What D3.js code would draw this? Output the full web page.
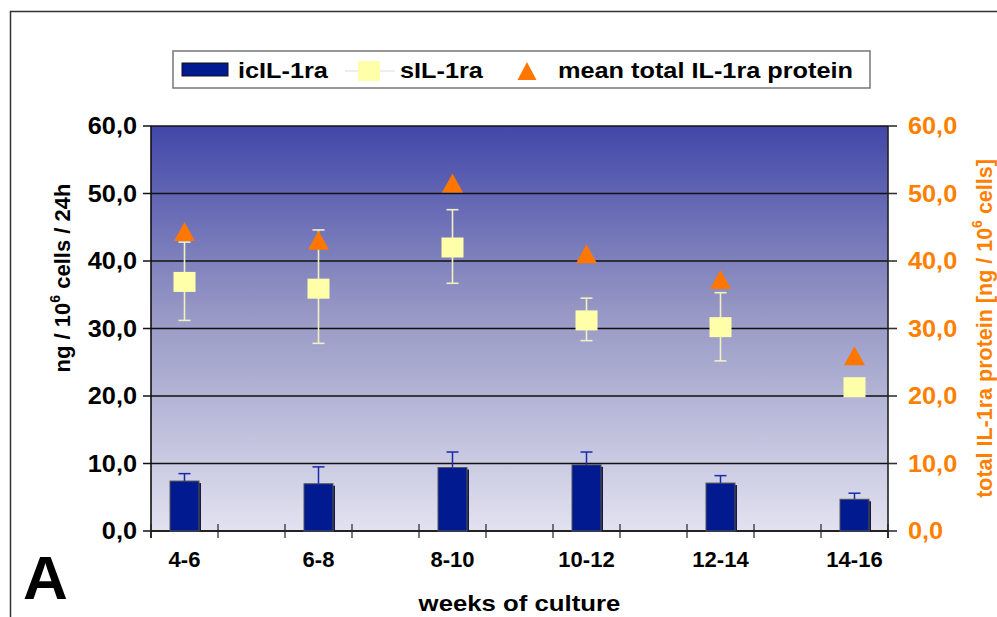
<!DOCTYPE html>
<html><head><meta charset="utf-8">
<script src="https://cdn.jsdelivr.net/npm/d3@7"></script>
<style>body{margin:0;background:#fff}svg{display:block}text{font-family:"Liberation Sans",Arial,sans-serif;font-weight:bold}</style>
</head><body><svg id="c" width="997" height="617"></svg>
<script>
const categories = ["4-6","6-8","8-10","10-12","12-14","14-16"];
const icIL = [7.4, 7.0, 9.4, 9.8, 7.1, 4.7];
const icILErr = [8.5, 9.5, 11.7, 11.7, 8.2, 5.6];
const sIL = [36.9, 35.9, 42.0, 31.2, 30.2, 21.3];
const sILHi = [42.8, 44.6, 47.6, 34.5, 35.3, 22.0];
const sILLo = [31.2, 27.8, 36.7, 28.2, 25.2, 20.6];
const total = [44.3, 43.0, 51.5, 41.0, 37.2, 25.9];
const yTicks = [0,10,20,30,40,50,60];

const svg = d3.select("#c");
const L=151,R=888,T=126,B=531;
const slots = d3.range(categories.length*2-1);
const x = d3.scaleBand().domain(slots).range([L,R]).padding(0);
const cx = i => x(i*2) + x.bandwidth()/2;
const y = d3.scaleLinear().domain([0,60]).range([B,T]);
const yR = d3.scaleLinear().domain([0,60]).range([B,T]);
const fmt = v => d3.format(".1f")(v).replace(".",",");
const tr = (X,Y,sx) => `translate(${X},${Y}) scale(${sx},1)`;

// outer frame
svg.append("path").attr("d","M10.5,617 V11.5 H997").attr("fill","none").attr("stroke","#333").attr("stroke-width",1.5);

// gradient plot background
const defs = svg.append("defs");
const g = defs.append("linearGradient").attr("id","bg").attr("x1",0).attr("y1",0).attr("x2",0).attr("y2",1);
g.append("stop").attr("offset","0%").attr("stop-color","#4247a8");
g.append("stop").attr("offset","45%").attr("stop-color","#9596c4");
g.append("stop").attr("offset","100%").attr("stop-color","#e2e2f0");
svg.append("rect").attr("x",L).attr("y",T).attr("width",R-L).attr("height",B-T).attr("fill","url(#bg)");

// gridlines + left ticks
svg.append("g").selectAll("line").data(yTicks).join("line")
  .attr("x1",143).attr("x2",R).attr("y1",d=>y(d)).attr("y2",d=>y(d))
  .attr("stroke","#111").attr("stroke-width",1.6);
// right ticks
svg.append("g").selectAll("line").data(yTicks).join("line")
  .attr("x1",R).attr("x2",897).attr("y1",d=>yR(d)).attr("y2",d=>yR(d))
  .attr("stroke","#333").attr("stroke-width",1.6);
// axes lines
svg.append("line").attr("x1",L).attr("x2",L).attr("y1",T).attr("y2",B+7).attr("stroke","#111").attr("stroke-width",1.6);
svg.append("line").attr("x1",R).attr("x2",R).attr("y1",T).attr("y2",B+7).attr("stroke","#222").attr("stroke-width",1.6);
svg.append("line").attr("x1",L).attr("x2",R).attr("y1",B).attr("y2",B).attr("stroke","#222").attr("stroke-width",2);
// x ticks at band boundaries
const bounds = slots.map(s=>x(s)).concat([R]);
svg.append("g").selectAll("line").data(bounds).join("line")
  .attr("x1",d=>d).attr("x2",d=>d).attr("y1",B-7).attr("y2",B+7).attr("stroke","#222").attr("stroke-width",1.2);

// y labels
svg.append("g").selectAll("text").data(yTicks).join("text")
  .attr("transform",d=>tr(137,y(d)+8,1.1)).attr("text-anchor","end").attr("font-size",23).attr("fill","#000").text(fmt);
svg.append("g").selectAll("text").data(yTicks).join("text")
  .attr("transform",d=>tr(908,yR(d)+8,1.1)).attr("text-anchor","start").attr("font-size",23).attr("fill","#ff7f00").text(fmt);
// x labels
svg.append("g").selectAll("text").data(categories).join("text")
  .attr("transform",(d,i)=>tr(cx(i),567,1.0)).attr("text-anchor","middle").attr("font-size",22).attr("fill","#000").text(d=>d);
svg.append("text").attr("transform",tr((L+R)/2,611,1.12)).attr("text-anchor","middle").attr("font-size",23).text("weeks of culture");
svg.append("text").attr("x",23).attr("y",599).attr("font-size",62).text("A");

// axis titles
const lt = svg.append("text").attr("transform",`translate(70,278) rotate(-90)`).attr("text-anchor","middle").attr("font-size",22);
lt.append("tspan").text("ng / 10");
lt.append("tspan").attr("font-size",14).attr("dy",-10).text("6");
lt.append("tspan").attr("dy",10).text(" cells / 24h");
const rt = svg.append("text").attr("transform",`translate(992,${(T+B)/2}) rotate(-90)`).attr("text-anchor","middle").attr("font-size",21.5).attr("fill","#ff7f00");
rt.append("tspan").text("total IL-1ra protein [ng / 10");
rt.append("tspan").attr("font-size",14).attr("dy",-10).text("6");
rt.append("tspan").attr("dy",10).text(" cells]");

// bars
const bw = 29;
const bars = svg.append("g");
bars.selectAll("rect.sh").data(icIL).join("rect").attr("class","sh")
  .attr("x",(d,i)=>cx(i)-bw/2+2).attr("y",d=>y(d)+2).attr("width",bw).attr("height",d=>B-y(d)-2).attr("fill","#1a1a40");
bars.selectAll("rect.b").data(icIL).join("rect").attr("class","b")
  .attr("x",(d,i)=>cx(i)-bw/2).attr("y",d=>y(d)).attr("width",bw).attr("height",d=>B-y(d))
  .attr("fill","#021a90").attr("stroke","#555").attr("stroke-width",1);
// bar error bars
const be = svg.append("g").attr("stroke","#1a2aa8").attr("stroke-width",1.5);
be.selectAll("line.v").data(icIL).join("line").attr("x1",(d,i)=>cx(i)).attr("x2",(d,i)=>cx(i)).attr("y1",d=>y(d)).attr("y2",(d,i)=>y(icILErr[i]));
be.selectAll("line.c").data(icILErr).join("line").attr("x1",(d,i)=>cx(i)-6).attr("x2",(d,i)=>cx(i)+6).attr("y1",d=>y(d)).attr("y2",d=>y(d));

// square error bars
const se = svg.append("g").attr("stroke","#f2f0c0").attr("stroke-width",1.6);
se.selectAll("line.v").data(sIL).join("line").attr("x1",(d,i)=>cx(i)).attr("x2",(d,i)=>cx(i)).attr("y1",(d,i)=>y(sILHi[i])).attr("y2",(d,i)=>y(sILLo[i]));
se.selectAll("line.h").data(sILHi).join("line").attr("x1",(d,i)=>cx(i)-6).attr("x2",(d,i)=>cx(i)+6).attr("y1",d=>y(d)).attr("y2",d=>y(d));
se.selectAll("line.l").data(sILLo).join("line").attr("x1",(d,i)=>cx(i)-6).attr("x2",(d,i)=>cx(i)+6).attr("y1",d=>y(d)).attr("y2",d=>y(d));
// squares
svg.append("g").selectAll("rect").data(sIL).join("rect")
  .attr("x",(d,i)=>cx(i)-11).attr("y",d=>y(d)-10).attr("width",22).attr("height",20).attr("fill","#ffffaa");
// triangles
svg.append("g").selectAll("path").data(total).join("path")
  .attr("d",(d,i)=>{const X=cx(i),Y=yR(d);return `M${X},${Y-10} L${X+10.5},${Y+9} L${X-10.5},${Y+9} Z`;})
  .attr("fill","#ff7700");

// legend
const lg = svg.append("g");
lg.append("rect").attr("x",173).attr("y",51).attr("width",697).attr("height",37).attr("fill","#fff").attr("stroke","#777").attr("stroke-width",1.5);
lg.append("rect").attr("x",182).attr("y",63).attr("width",46).attr("height",13).attr("fill","#021a90").attr("stroke","#111");
lg.append("text").attr("transform",tr(238,78,1.15)).attr("font-size",22).text("icIL-1ra");
lg.append("line").attr("x1",345).attr("x2",395).attr("y1",71).attr("y2",71).attr("stroke","#ddd").attr("stroke-width",1);
lg.append("rect").attr("x",358).attr("y",61).attr("width",22).attr("height",20).attr("fill","#ffffaa");
lg.append("text").attr("transform",tr(400,78,1.15)).attr("font-size",22).text("sIL-1ra");
lg.append("path").attr("d","M527,62 L536.5,80 L517.5,80 Z").attr("fill","#ff7700");
lg.append("text").attr("transform",tr(558,78,1.15)).attr("font-size",22).text("mean total IL-1ra protein");
</script></body></html>
